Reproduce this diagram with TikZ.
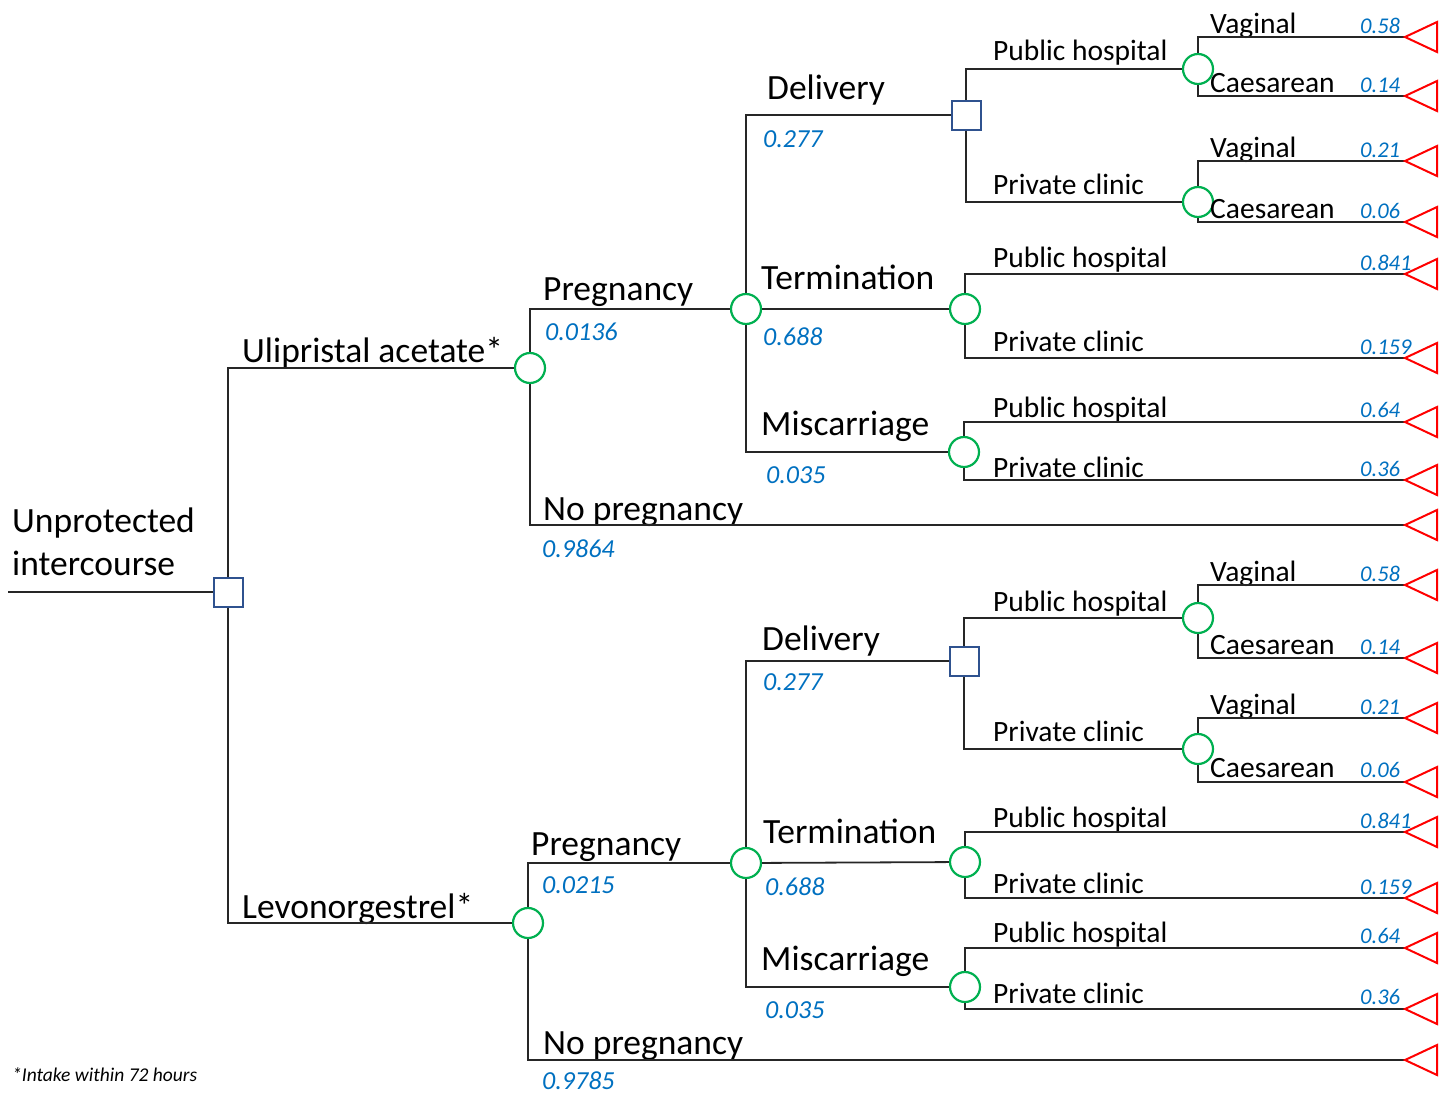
\documentclass[tikz,border=0pt]{standalone}
\usepackage{fontspec}
\setmainfont{Carlito}
\definecolor{numblue}{RGB}{0,112,192}
\definecolor{chgreen}{RGB}{0,176,80}
\definecolor{decblue}{RGB}{47,82,143}
\begin{document}
\begin{tikzpicture}[x=1pt,y=-1pt,
  branch/.style={line width=1.8pt, draw=black!85},
  lbig/.style={anchor=base west, inner sep=0, font=\fontsize{35.5}{40}\selectfont},
  lmid/.style={anchor=base west, inner sep=0, font=\fontsize{29.5}{34}\selectfont},
  pmid/.style={anchor=base west, inner sep=0, text=numblue, font=\fontsize{26}{30}\selectfont\itshape},
  pend/.style={anchor=base west, inner sep=0, text=numblue, font=\fontsize{22.5}{26}\selectfont\itshape},
  foot/.style={anchor=base west, inner sep=0, font=\fontsize{19.5}{22}\selectfont\itshape},
  chance/.style={circle, draw=chgreen, line width=2.2pt, fill=white, minimum size=30pt, inner sep=0},
  decision/.style={rectangle, draw=decblue, line width=2pt, fill=white, minimum size=29pt, inner sep=0},
  termtri/.style={draw=red, line width=2pt, line join=miter}]
\useasboundingbox (0,0) rectangle (1450,1092);

% ---------- root ----------
\coordinate (root) at (8,592);
\node[decision] (d0) at (228,592) {};
\node[lbig] (lR1) at (12,532) {Unprotected};
\node[lbig] (lR2) at (12,575) {intercourse};
\node[foot] (fn) at (12,1081) {*Intake within 72 hours};

% ---------- arm 1 : Ulipristal acetate ----------
\node[chance] (cU) at (530,368) {};
\node[lbig] (lU) at (242,362) {Ulipristal acetate*};

\node[chance] (cP1) at (746,309) {};
\node[lbig] (lP1) at (543,300) {Pregnancy};
\node[pmid] (pP1) at (545,340) {0.0136};

\coordinate (tN1) at (1405,525);
\node[lbig] (lN1) at (543,520) {No pregnancy};
\node[pmid] (pN1) at (542,557) {0.9864};

\node[decision] (d1) at (966,115) {};
\node[lbig] (lD1) at (767,99) {Delivery};
\node[pmid] (pD1) at (763,147) {0.277};

\node[chance] (cT1) at (965,309) {};
\node[lbig] (lT1) at (761,289) {Termination};
\node[pmid] (pT1) at (763,345) {0.688};

\node[chance] (cM1) at (964,452) {};
\node[lbig] (lM1) at (761,435) {Miscarriage};
\node[pmid] (pM1) at (766,483) {0.035};

\node[chance] (cA1) at (1198,69) {};
\node[lmid] (lA1) at (993,60) {Public hospital};
\node[chance] (cB1) at (1198,202) {};
\node[lmid] (lB1) at (993,194) {Private clinic};

\coordinate (tA1a) at (1405,37);
\node[lmid] (lA1a) at (1210,33) {Vaginal};
\node[pend] (pA1a) at (1360,33) {0.58};
\coordinate (tA1b) at (1405,96);
\node[lmid] (lA1b) at (1210,92) {Caesarean};
\node[pend] (pA1b) at (1360,92) {0.14};
\coordinate (tB1a) at (1405,161);
\node[lmid] (lB1a) at (1210,157) {Vaginal};
\node[pend] (pB1a) at (1360,157) {0.21};
\coordinate (tB1b) at (1405,222);
\node[lmid] (lB1b) at (1210,218) {Caesarean};
\node[pend] (pB1b) at (1360,218) {0.06};

\coordinate (tT1a) at (1405,274);
\node[lmid] (lT1a) at (993,267) {Public hospital};
\node[pend] (pT1a) at (1360,270) {0.841};
\coordinate (tT1b) at (1405,358);
\node[lmid] (lT1b) at (993,351) {Private clinic};
\node[pend] (pT1b) at (1360,354) {0.159};

\coordinate (tM1a) at (1405,422);
\node[lmid] (lM1a) at (993,417) {Public hospital};
\node[pend] (pM1a) at (1360,417) {0.64};
\coordinate (tM1b) at (1405,480);
\node[lmid] (lM1b) at (993,477) {Private clinic};
\node[pend] (pM1b) at (1360,476) {0.36};

% ---------- arm 2 : Levonorgestrel ----------
\node[chance] (cL) at (528,923) {};
\node[lbig] (lL) at (242,918) {Levonorgestrel*};

\node[chance] (cP2) at (746,863) {};
\node[lbig] (lP2) at (531,855) {Pregnancy};
\node[pmid] (pP2) at (542,893) {0.0215};

\coordinate (tN2) at (1405,1060);
\node[lbig] (lN2) at (543,1054) {No pregnancy};
\node[pmid] (pN2) at (542,1089) {0.9785};

\node[decision] (d2) at (964,661) {};
\node[lbig] (lD2) at (762,650) {Delivery};
\node[pmid] (pD2) at (763,690) {0.277};

\node[chance] (cT2) at (965,862) {};
\node[lbig] (lT2) at (763,843) {Termination};
\node[pmid] (pT2) at (765,895) {0.688};

\node[chance] (cM2) at (965,987) {};
\node[lbig] (lM2) at (761,970) {Miscarriage};
\node[pmid] (pM2) at (765,1018) {0.035};

\node[chance] (cA2) at (1198,618) {};
\node[lmid] (lA2) at (993,611) {Public hospital};
\node[chance] (cB2) at (1198,749) {};
\node[lmid] (lB2) at (993,741) {Private clinic};

\coordinate (tA2a) at (1405,585);
\node[lmid] (lA2a) at (1210,581) {Vaginal};
\node[pend] (pA2a) at (1360,581) {0.58};
\coordinate (tA2b) at (1405,658);
\node[lmid] (lA2b) at (1210,654) {Caesarean};
\node[pend] (pA2b) at (1360,654) {0.14};
\coordinate (tB2a) at (1405,718);
\node[lmid] (lB2a) at (1210,714) {Vaginal};
\node[pend] (pB2a) at (1360,714) {0.21};
\coordinate (tB2b) at (1405,782);
\node[lmid] (lB2b) at (1210,777) {Caesarean};
\node[pend] (pB2b) at (1360,777) {0.06};

\coordinate (tT2a) at (1405,832);
\node[lmid] (lT2a) at (993,827) {Public hospital};
\node[pend] (pT2a) at (1360,828) {0.841};
\coordinate (tT2b) at (1405,898);
\node[lmid] (lT2b) at (993,893) {Private clinic};
\node[pend] (pT2b) at (1360,894) {0.159};

\coordinate (tM2a) at (1405,948);
\node[lmid] (lM2a) at (993,942) {Public hospital};
\node[pend] (pM2a) at (1360,943) {0.64};
\coordinate (tM2b) at (1405,1009);
\node[lmid] (lM2b) at (993,1003) {Private clinic};
\node[pend] (pM2b) at (1360,1004) {0.36};

% ---------- connectors ----------
\draw[branch] (root) -- (d0);
\draw[branch] (d0) |- (cU);
\draw[branch] (d0) |- (cL);

\draw[branch] (cU) |- (cP1);
\draw[branch] (cU) |- (tN1);
\draw[branch] (cP1) |- (d1);
\draw[branch] (cP1) -- (cT1);
\draw[branch] (cP1) |- (cM1);
\draw[branch] (d1) |- (cA1);
\draw[branch] (d1) |- (cB1);
\draw[branch] (cA1) |- (tA1a);
\draw[branch] (cA1) |- (tA1b);
\draw[branch] (cB1) |- (tB1a);
\draw[branch] (cB1) |- (tB1b);
\draw[branch] (cT1) |- (tT1a);
\draw[branch] (cT1) |- (tT1b);
\draw[branch] (cM1) |- (tM1a);
\draw[branch] (cM1) |- (tM1b);

\draw[branch] (cL) |- (cP2);
\draw[branch] (cL) |- (tN2);
\draw[branch] (cP2) |- (d2);
\draw[branch] (cP2) -- (cT2);
\draw[branch] (cP2) |- (cM2);
\draw[branch] (d2) |- (cA2);
\draw[branch] (d2) |- (cB2);
\draw[branch] (cA2) |- (tA2a);
\draw[branch] (cA2) |- (tA2b);
\draw[branch] (cB2) |- (tB2a);
\draw[branch] (cB2) |- (tB2b);
\draw[branch] (cT2) |- (tT2a);
\draw[branch] (cT2) |- (tT2b);
\draw[branch] (cM2) |- (tM2a);
\draw[branch] (cM2) |- (tM2b);

% ---------- terminal triangles ----------
\foreach \t in {tA1a,tA1b,tB1a,tB1b,tT1a,tT1b,tM1a,tM1b,tN1,
                tA2a,tA2b,tB2a,tB2b,tT2a,tT2b,tM2a,tM2b,tN2}
  \draw[termtri] (\t) -- ++(32,-15) -- ++(0,30) -- cycle;
\end{tikzpicture}
\end{document}
